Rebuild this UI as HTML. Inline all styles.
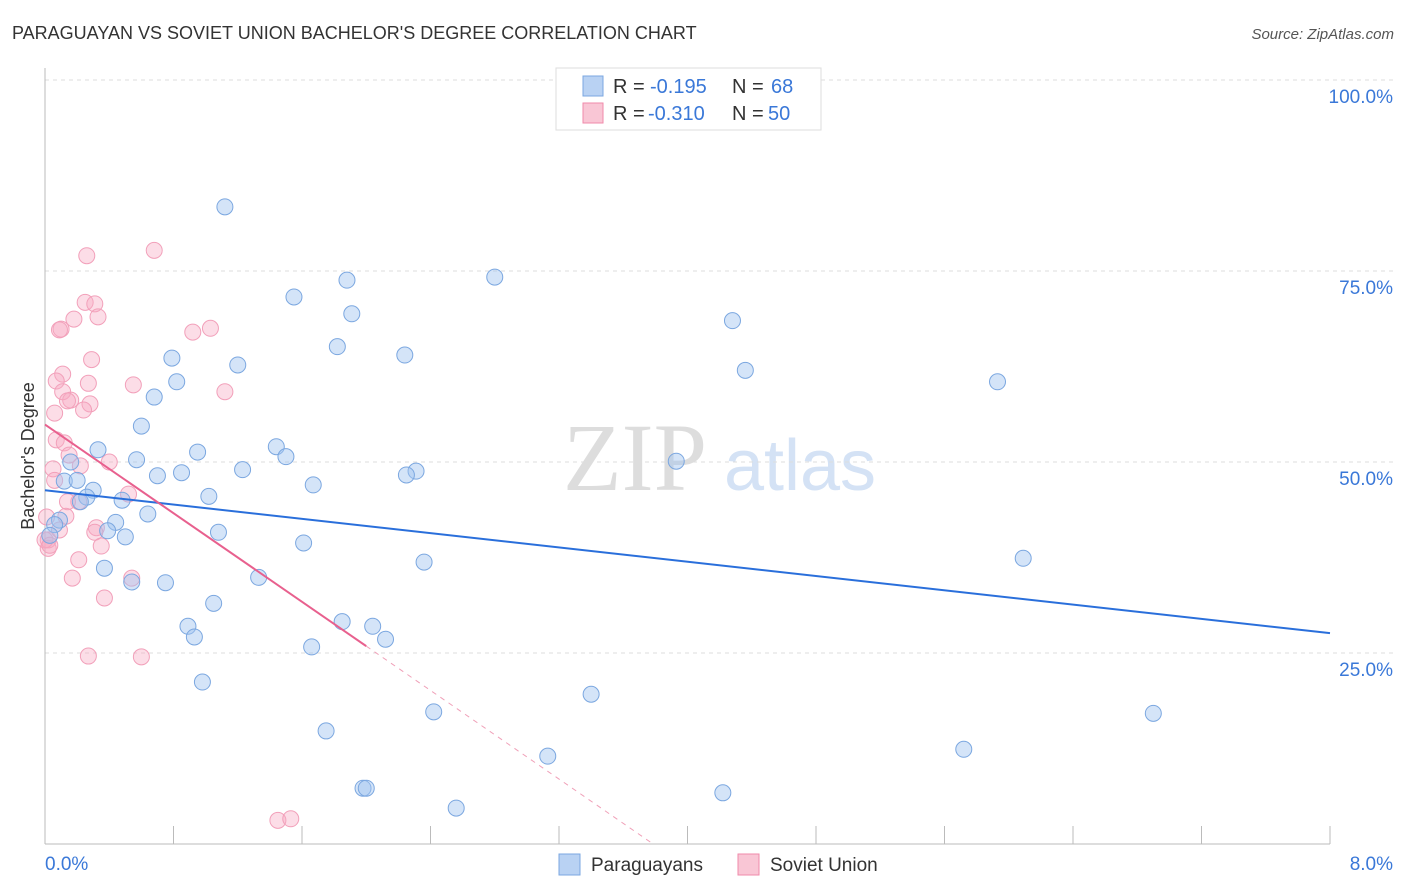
<!DOCTYPE html>
<html><head><meta charset="utf-8"><style>
body{margin:0;background:#fff;font-family:"Liberation Sans",sans-serif}
svg{display:block}
</style></head><body>
<svg width="1406" height="892" xmlns="http://www.w3.org/2000/svg">
<text x="12" y="39" font-size="18" fill="#333">PARAGUAYAN VS SOVIET UNION BACHELOR'S DEGREE CORRELATION CHART</text>
<text x="1394" y="39" font-size="15" fill="#555" font-style="italic" text-anchor="end">Source: ZipAtlas.com</text>
<g>
<text x="635" y="490" font-size="96" fill="#ddd" font-family="Liberation Serif,serif" text-anchor="middle">ZIP</text>
<text x="800" y="490" font-size="72" fill="#d4e2f5" text-anchor="middle">atlas</text>
</g>
<g id="grid"></g>
<g id="axes"></g>
<g id="marks"></g>
<text transform="translate(34,456) rotate(-90)" font-size="18" fill="#333" text-anchor="middle">Bachelor's Degree</text>
<g>
<rect x="556" y="68" width="265" height="62" fill="#fff" stroke="#ddd"/>
<rect x="583" y="76" width="20" height="20" fill="#b9d2f3" stroke="#7ba7e0"/>
<rect x="583" y="103" width="20" height="20" fill="#f9c6d5" stroke="#f08aaa"/>
<text x="613" y="93" font-size="20" fill="#333">R =</text>
<text x="650" y="93" font-size="20" fill="#3a78d8">-0.195</text>
<text x="732" y="93" font-size="20" fill="#333">N =</text>
<text x="771" y="93" font-size="20" fill="#3a78d8">68</text>
<text x="613" y="120" font-size="20" fill="#333">R =</text>
<text x="648" y="120" font-size="20" fill="#3a78d8">-0.310</text>
<text x="732" y="120" font-size="20" fill="#333">N =</text>
<text x="768" y="120" font-size="20" fill="#3a78d8">50</text>
</g>
<g>
<rect x="559" y="854" width="21" height="21" fill="#b9d2f3" stroke="#7ba7e0"/>
<text x="591" y="871" font-size="19" fill="#333">Paraguayans</text>
<rect x="738" y="854" width="21" height="21" fill="#f9c6d5" stroke="#f08aaa"/>
<text x="770" y="871" font-size="19" fill="#333">Soviet Union</text>
</g>
</svg>
<script>
const yTicks=[25,50,75,100];
const yTickLabels=["25.0%","50.0%","75.0%","100.0%"];
const xTickLabels=["0.0%","8.0%"];
const blueX=[1.12,2.80,1.88,1.55,1.91,4.28,1.82,2.24,0.79,1.20,4.36,0.82,5.93,0.68,0.60,0.33,1.44,0.95,1.50,0.57,0.16,3.93,1.23,0.85,0.70,2.31,2.25,1.67,0.12,0.20,0.30,0.26,1.02,0.48,0.22,0.64,0.09,0.44,0.06,0.39,1.08,0.03,0.50,1.61,6.09,2.36,0.37,1.33,0.54,0.75,1.05,1.85,0.89,2.04,0.93,2.12,1.66,0.98,3.40,2.42,6.90,1.75,5.72,3.13,1.98,2.00,4.22,2.56];
const blueY=[83.4,74.2,73.8,71.6,69.4,68.5,65.1,64.0,63.6,62.7,62.0,60.5,60.5,58.5,54.7,51.6,52.0,51.3,50.7,50.3,50.0,50.1,49.0,48.6,48.2,48.8,48.3,47.0,47.5,47.6,46.3,45.4,45.5,45.0,44.8,43.2,42.4,42.1,41.8,41.0,40.8,40.4,40.2,39.4,37.4,36.9,36.1,34.9,34.3,34.2,31.5,29.1,28.5,28.5,27.1,26.8,25.8,21.2,19.6,17.3,17.1,14.8,12.4,11.5,7.3,7.3,6.7,4.7];
const pinkX=[0.68,0.26,0.25,0.31,0.33,0.18,0.10,0.09,1.03,0.92,0.29,0.11,0.07,0.27,0.55,1.12,0.11,0.16,0.28,0.14,0.24,0.06,0.07,0.12,0.15,0.22,0.40,0.05,0.06,0.52,0.21,0.14,0.13,0.01,0.32,0.31,0.02,0.02,0.35,0.21,0.17,0.54,0.37,0.27,0.60,1.45,1.53,0.00,0.09,0.03];
const pinkY=[77.7,77.0,70.9,70.7,69.0,68.7,67.4,67.3,67.5,67.0,63.4,61.5,60.6,60.3,60.1,59.2,59.2,58.1,57.6,58.0,56.8,56.4,52.9,52.5,50.9,49.5,50.0,49.1,47.6,45.8,44.8,44.8,42.9,42.8,41.4,40.8,39.8,38.7,39.0,37.2,34.8,34.8,32.2,24.6,24.5,3.1,3.3,39.8,41.1,39.1];
const blueTrend=[46.3,27.6];
const pinkTrend=[54.9,-14.5];
const NS="http://www.w3.org/2000/svg";
const X=v=>45+v/8*1285, Y=v=>844-v/100*764;
function mk(t,a,p){const e=document.createElementNS(NS,t);for(const k in a)e.setAttribute(k,a[k]);p.appendChild(e);return e;}
const grid=document.getElementById('grid'),axes=document.getElementById('axes'),marks=document.getElementById('marks');
yTicks.forEach((t,i)=>{
const l=mk('line',{x1:45,x2:1393,y1:Y(t),y2:Y(t),stroke:'#ddd','stroke-dasharray':'4,4'},grid);


const tx=mk('text',{x:1393,y:Y(t)+23,'font-size':19,fill:'#3a78d8','text-anchor':'end'},axes);
tx.textContent=yTickLabels[i];


});
const ya=mk('line',{x1:45,x2:45,y1:68,y2:844,stroke:'#bbb'},axes);


const xa=mk('line',{x1:45,x2:1330,y1:844,y2:844,stroke:'#bbb'},axes);


for(let i=0;i<=10;i++){const tk=mk('line',{x1:X(i*0.8),x2:X(i*0.8),y1:826,y2:844,stroke:'#bbb'},axes);

}
[[0,'start',45],[8,'end',1393]].forEach((d,i)=>{const tx=mk('text',{x:d[2],y:870,'font-size':19,fill:'#3a78d8','text-anchor':d[1]},axes);tx.textContent=xTickLabels[i];

});
pinkX.forEach((x,i)=>{const c=mk('circle',{cx:X(x),cy:Y(pinkY[i]),r:8,fill:'rgba(247,170,195,0.4)',stroke:'#f2a0ba','stroke-width':1},marks);

});
blueX.forEach((x,i)=>{const c=mk('circle',{cx:X(x),cy:Y(blueY[i]),r:8,fill:'rgba(160,195,240,0.45)',stroke:'#7ba7e0','stroke-width':1},marks);

});
const bt=mk('line',{x1:X(0),y1:Y(blueTrend[0]),x2:X(8),y2:Y(blueTrend[1]),stroke:'#2a6fdb','stroke-width':2},marks);


const pf=x=>pinkTrend[0]+pinkTrend[1]*x, xz=-pinkTrend[0]/pinkTrend[1];
const pt=mk('line',{x1:X(0),y1:Y(pf(0)),x2:X(2.0),y2:Y(pf(2.0)),stroke:'#e8608e','stroke-width':2},marks);


const pd=mk('line',{x1:X(2.0),y1:Y(pf(2.0)),x2:X(xz),y2:Y(0),stroke:'#f0a0b8','stroke-width':1,'stroke-dasharray':'5,5'},marks);


</script>
</body></html>
